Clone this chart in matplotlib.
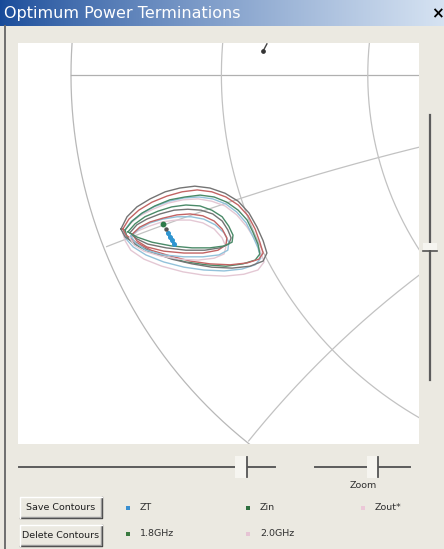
import numpy as np
import matplotlib
matplotlib.use("Agg")
import matplotlib.pyplot as plt
from matplotlib.patches import Rectangle

W, H = 444, 549

# Smith chart view (reflection-coefficient plane), zoomed on the low-impedance corner
GAMMA_XLIM = (-1.1125, -0.2611)
GAMMA_YLIM = (-0.7834, 0.0679)
RESISTANCE_CIRCLES = [0.19, 0.46]
REACTANCE_ARCS = [-0.19, -0.48]

# load-pull power contours, outer level (gamma real / imag)
outer_grey_re = [-0.894, -0.881, -0.860, -0.832, -0.800, -0.769, -0.737, -0.705, -0.673, -0.645, -0.622, -0.605,
                 -0.592, -0.584, -0.592, -0.620, -0.658, -0.701, -0.743, -0.786, -0.828, -0.862, -0.885]
outer_grey_im = [-0.327, -0.301, -0.280, -0.263, -0.248, -0.240, -0.236, -0.240, -0.251, -0.268, -0.293, -0.323,
                 -0.352, -0.378, -0.395, -0.406, -0.410, -0.408, -0.401, -0.391, -0.376, -0.359, -0.344]
outer_red_re = [-0.890, -0.877, -0.856, -0.828, -0.796, -0.764, -0.732, -0.701, -0.671, -0.645, -0.624, -0.609,
                -0.599, -0.592, -0.601, -0.626, -0.662, -0.705, -0.747, -0.790, -0.830, -0.862, -0.883]
outer_red_im = [-0.327, -0.306, -0.287, -0.270, -0.257, -0.248, -0.244, -0.248, -0.259, -0.276, -0.299, -0.327,
                -0.355, -0.378, -0.391, -0.399, -0.403, -0.401, -0.395, -0.384, -0.372, -0.355, -0.340]
outer_green_re = [-0.885, -0.870, -0.849, -0.822, -0.790, -0.758, -0.726, -0.696, -0.669, -0.645, -0.626, -0.614,
                  -0.603, -0.599, -0.609, -0.635, -0.671, -0.713, -0.756, -0.798, -0.837, -0.866, -0.881]
outer_green_im = [-0.329, -0.310, -0.293, -0.278, -0.265, -0.259, -0.255, -0.259, -0.270, -0.287, -0.308, -0.333,
                  -0.359, -0.380, -0.393, -0.401, -0.406, -0.403, -0.397, -0.386, -0.374, -0.359, -0.344]
outer_blue_re = [-0.887, -0.873, -0.851, -0.824, -0.792, -0.760, -0.728, -0.699, -0.671, -0.648, -0.628, -0.614,
                 -0.603, -0.597, -0.609, -0.637, -0.675, -0.718, -0.760, -0.803, -0.841, -0.868, -0.883]
outer_blue_im = [-0.331, -0.312, -0.295, -0.280, -0.268, -0.261, -0.259, -0.263, -0.274, -0.291, -0.314, -0.342,
                 -0.367, -0.389, -0.403, -0.412, -0.416, -0.414, -0.408, -0.397, -0.382, -0.365, -0.348]
outer_pink_re = [-0.890, -0.875, -0.854, -0.826, -0.794, -0.762, -0.730, -0.701, -0.673, -0.648, -0.626, -0.609,
                 -0.597, -0.590, -0.603, -0.633, -0.673, -0.718, -0.762, -0.807, -0.845, -0.873, -0.885]
outer_pink_im = [-0.335, -0.316, -0.299, -0.285, -0.272, -0.265, -0.263, -0.268, -0.278, -0.297, -0.323, -0.350,
                 -0.376, -0.397, -0.414, -0.423, -0.427, -0.425, -0.418, -0.406, -0.391, -0.372, -0.352]

# inner level
inner_green_re = [-0.879, -0.864, -0.843, -0.815, -0.786, -0.756, -0.726, -0.701, -0.679, -0.665, -0.656, -0.658,
                  -0.675, -0.705, -0.743, -0.786, -0.828, -0.860]
inner_green_im = [-0.333, -0.316, -0.301, -0.289, -0.280, -0.276, -0.278, -0.287, -0.301, -0.321, -0.340, -0.355,
                  -0.363, -0.367, -0.367, -0.363, -0.355, -0.344]
inner_grey_re = [-0.875, -0.860, -0.839, -0.811, -0.781, -0.752, -0.724, -0.699, -0.679, -0.667, -0.660, -0.665,
                 -0.684, -0.716, -0.756, -0.798, -0.837, -0.860]
inner_grey_im = [-0.335, -0.318, -0.306, -0.295, -0.287, -0.285, -0.287, -0.295, -0.310, -0.329, -0.346, -0.359,
                 -0.367, -0.372, -0.372, -0.367, -0.359, -0.348]
inner_red_re = [-0.870, -0.854, -0.832, -0.805, -0.775, -0.747, -0.720, -0.696, -0.679, -0.669, -0.671, -0.688,
                -0.720, -0.760, -0.803, -0.839, -0.860]
inner_red_im = [-0.338, -0.323, -0.312, -0.304, -0.297, -0.295, -0.299, -0.310, -0.327, -0.346, -0.361, -0.372,
                -0.378, -0.378, -0.374, -0.365, -0.352]
inner_blue_re = [-0.873, -0.856, -0.832, -0.805, -0.775, -0.745, -0.718, -0.694, -0.675, -0.665, -0.667, -0.686,
                 -0.720, -0.760, -0.803, -0.841, -0.862]
inner_blue_im = [-0.342, -0.327, -0.314, -0.306, -0.301, -0.301, -0.306, -0.318, -0.335, -0.355, -0.372, -0.382,
                 -0.386, -0.386, -0.382, -0.372, -0.357]
inner_pink_re = [-0.875, -0.858, -0.834, -0.807, -0.777, -0.747, -0.720, -0.696, -0.679, -0.671, -0.675, -0.696,
                 -0.730, -0.771, -0.811, -0.845, -0.866]
inner_pink_im = [-0.346, -0.331, -0.321, -0.312, -0.308, -0.308, -0.314, -0.327, -0.346, -0.365, -0.380, -0.389,
                 -0.393, -0.391, -0.384, -0.374, -0.361]

# optimum terminations
zin_re, zin_im = [-0.805], [-0.316]
zout_re, zout_im = [-0.798], [-0.327]
zt_re = [-0.794, -0.790, -0.786, -0.781]
zt_im = [-0.335, -0.344, -0.350, -0.359]
cursor_re = [-0.592, -0.584]
cursor_im = [0.051, 0.066]

LEGEND_LABELS = ["ZT", "Zin", "Zout*", "1.8GHz", "2.0GHz"]
LEGEND_COLORS = ["#3a8fd0", "#2e6e3e", "#ecc8d8", "#3a7a40", "#e6c4d4"]

GREY, RED, GREEN, BLUE, PINK = "#747474", "#c26464", "#4a8a68", "#93c2da", "#e4c8d4"
contours = [
    (outer_pink_re, outer_pink_im, PINK),
    (outer_blue_re, outer_blue_im, BLUE),
    (outer_green_re, outer_green_im, GREEN),
    (outer_red_re, outer_red_im, RED),
    (outer_grey_re, outer_grey_im, GREY),
    (inner_pink_re, inner_pink_im, PINK),
    (inner_blue_re, inner_blue_im, BLUE),
    (inner_red_re, inner_red_im, RED),
    (inner_grey_re, inner_grey_im, GREY),
    (inner_green_re, inner_green_im, GREEN),
]

WINDOW = "#ebe9e1"

fig = plt.figure(figsize=(W / 100, H / 100), dpi=100)
fig.patch.set_facecolor(WINDOW)

# ---- window chrome, pixel coordinates ----
bg = fig.add_axes([0, 0, 1, 1])
bg.set_xlim(0, W)
bg.set_ylim(H, 0)
bg.axis("off")

grad = np.linspace(0, 1, 256)
c0 = np.array([0.09, 0.29, 0.60])
c1 = np.array([0.84, 0.89, 0.95])
bar = (c0[None, :] * (1 - grad[:, None] ** 0.8) + c1[None, :] * grad[:, None] ** 0.8)[None, :, :]
bg.imshow(bar, extent=[0, W, 26, 0], aspect="auto", zorder=1)
bg.text(4, 13.5, "Optimum Power Terminations", color="white", fontsize=11.5,
        va="center", ha="left", zorder=2)
bg.text(437, 14, "×", color="black", fontsize=11, fontweight="bold", va="center", ha="center", zorder=2)

bg.plot([4.5, 4.5], [26, H], color="#6e6e6e", lw=1.4, zorder=2)

# right-hand vertical slider
bg.plot([430, 430], [115, 380], color="#5c5c5c", lw=1.6, zorder=2)
bg.add_patch(Rectangle((423, 243), 14, 7, facecolor="#f6f5f0", edgecolor="none", zorder=3))
bg.plot([423, 437], [251, 251], color="#555555", lw=1.2, zorder=3)

# bottom sliders
bg.plot([19, 275], [467, 467], color="#5c5c5c", lw=1.4, zorder=2)
bg.add_patch(Rectangle((235, 456), 12, 22, facecolor="#f6f5f0", edgecolor="none", zorder=3))
bg.plot([247, 247], [457, 477], color="#555555", lw=1.3, zorder=4)
bg.plot([315, 410], [467, 467], color="#5c5c5c", lw=1.4, zorder=2)
bg.add_patch(Rectangle((367, 456), 11, 22, facecolor="#f6f5f0", edgecolor="none", zorder=3))
bg.plot([378, 378], [457, 477], color="#555555", lw=1.3, zorder=4)
bg.text(363, 485, "Zoom", fontsize=6.8, color="#303030", ha="center", va="center", zorder=4)


def draw_button(x, y, w, h, label):
    bg.add_patch(Rectangle((x, y), w, h, facecolor=WINDOW, edgecolor="none", zorder=3))
    bg.plot([x, x + w, x + w], [y + h, y + h, y], color="#404040", lw=1.0, zorder=4)
    bg.plot([x + 1, x + w - 1, x + w - 1], [y + h - 1, y + h - 1, y + 1], color="#9a9a9a", lw=1.0, zorder=4)
    bg.plot([x, x, x + w], [y + h, y, y], color="white", lw=1.0, zorder=4)
    bg.text(x + w / 2, y + h / 2 + 0.5, label, fontsize=6.8, color="#202020",
            ha="center", va="center", zorder=5)


draw_button(20, 497, 82, 21, "Save Contours")
draw_button(20, 525, 82, 21, "Delete Contours")

legend_x = [128, 248, 363, 128, 248]
legend_y = [508, 508, 508, 534, 534]
for lx, ly, lab, col in zip(legend_x, legend_y, LEGEND_LABELS, LEGEND_COLORS):
    bg.scatter([lx], [ly], s=8, marker="s", color=col, linewidths=0, zorder=4)
    bg.text(lx + 12, ly - 0.5, lab, fontsize=6.8, color="#303030", ha="left", va="center", zorder=4)

# ---- Smith chart ----
ax = fig.add_axes([18 / W, 1 - 444 / H, 401 / W, 401 / H])
ax.set_facecolor("white")
ax.set_xlim(*GAMMA_XLIM)
ax.set_ylim(*GAMMA_YLIM)
ax.set_xticks([])
ax.set_yticks([])
for s in ax.spines.values():
    s.set_visible(False)

t = np.linspace(0, 2 * np.pi, 1600)
grid_kw = dict(color="#c2c2c2", lw=0.9, zorder=1)
ax.plot(np.cos(t), np.sin(t), color="#b8b8b8", lw=0.9, zorder=1)
ax.plot([-1, 1], [0, 0], color="#b0b0b0", lw=0.9, zorder=1)
for r in RESISTANCE_CIRCLES:
    c, rad = r / (1 + r), 1 / (1 + r)
    ax.plot(c + rad * np.cos(t), rad * np.sin(t), **grid_kw)
for xr in REACTANCE_ARCS:
    gx = 1 + np.cos(t) / abs(xr)
    gy = 1 / xr + np.sin(t) / abs(xr)
    inside = gx ** 2 + gy ** 2 <= 1.0
    ax.plot(np.where(inside, gx, np.nan), np.where(inside, gy, np.nan), **grid_kw)

for re_, im_, col in contours:
    ax.plot(re_ + re_[:1], im_ + im_[:1], color=col, lw=1.0, zorder=3)

ax.plot(zt_re, zt_im, color="#2f95d0", lw=2.0, marker="o", ms=2.6, zorder=5)
ax.plot(zout_re, zout_im, "o", color="#555555", ms=2.2, zorder=5)
ax.plot(zin_re, zin_im, "o", color="#2e7a4a", ms=3.2, zorder=5)
ax.plot(cursor_re, cursor_im, color="#444444", lw=1.0, zorder=5)
ax.plot(cursor_re[:1], cursor_im[:1], "o", color="#333333", ms=2.4, zorder=5)

fig.savefig("out.png", dpi=100, facecolor=WINDOW)
